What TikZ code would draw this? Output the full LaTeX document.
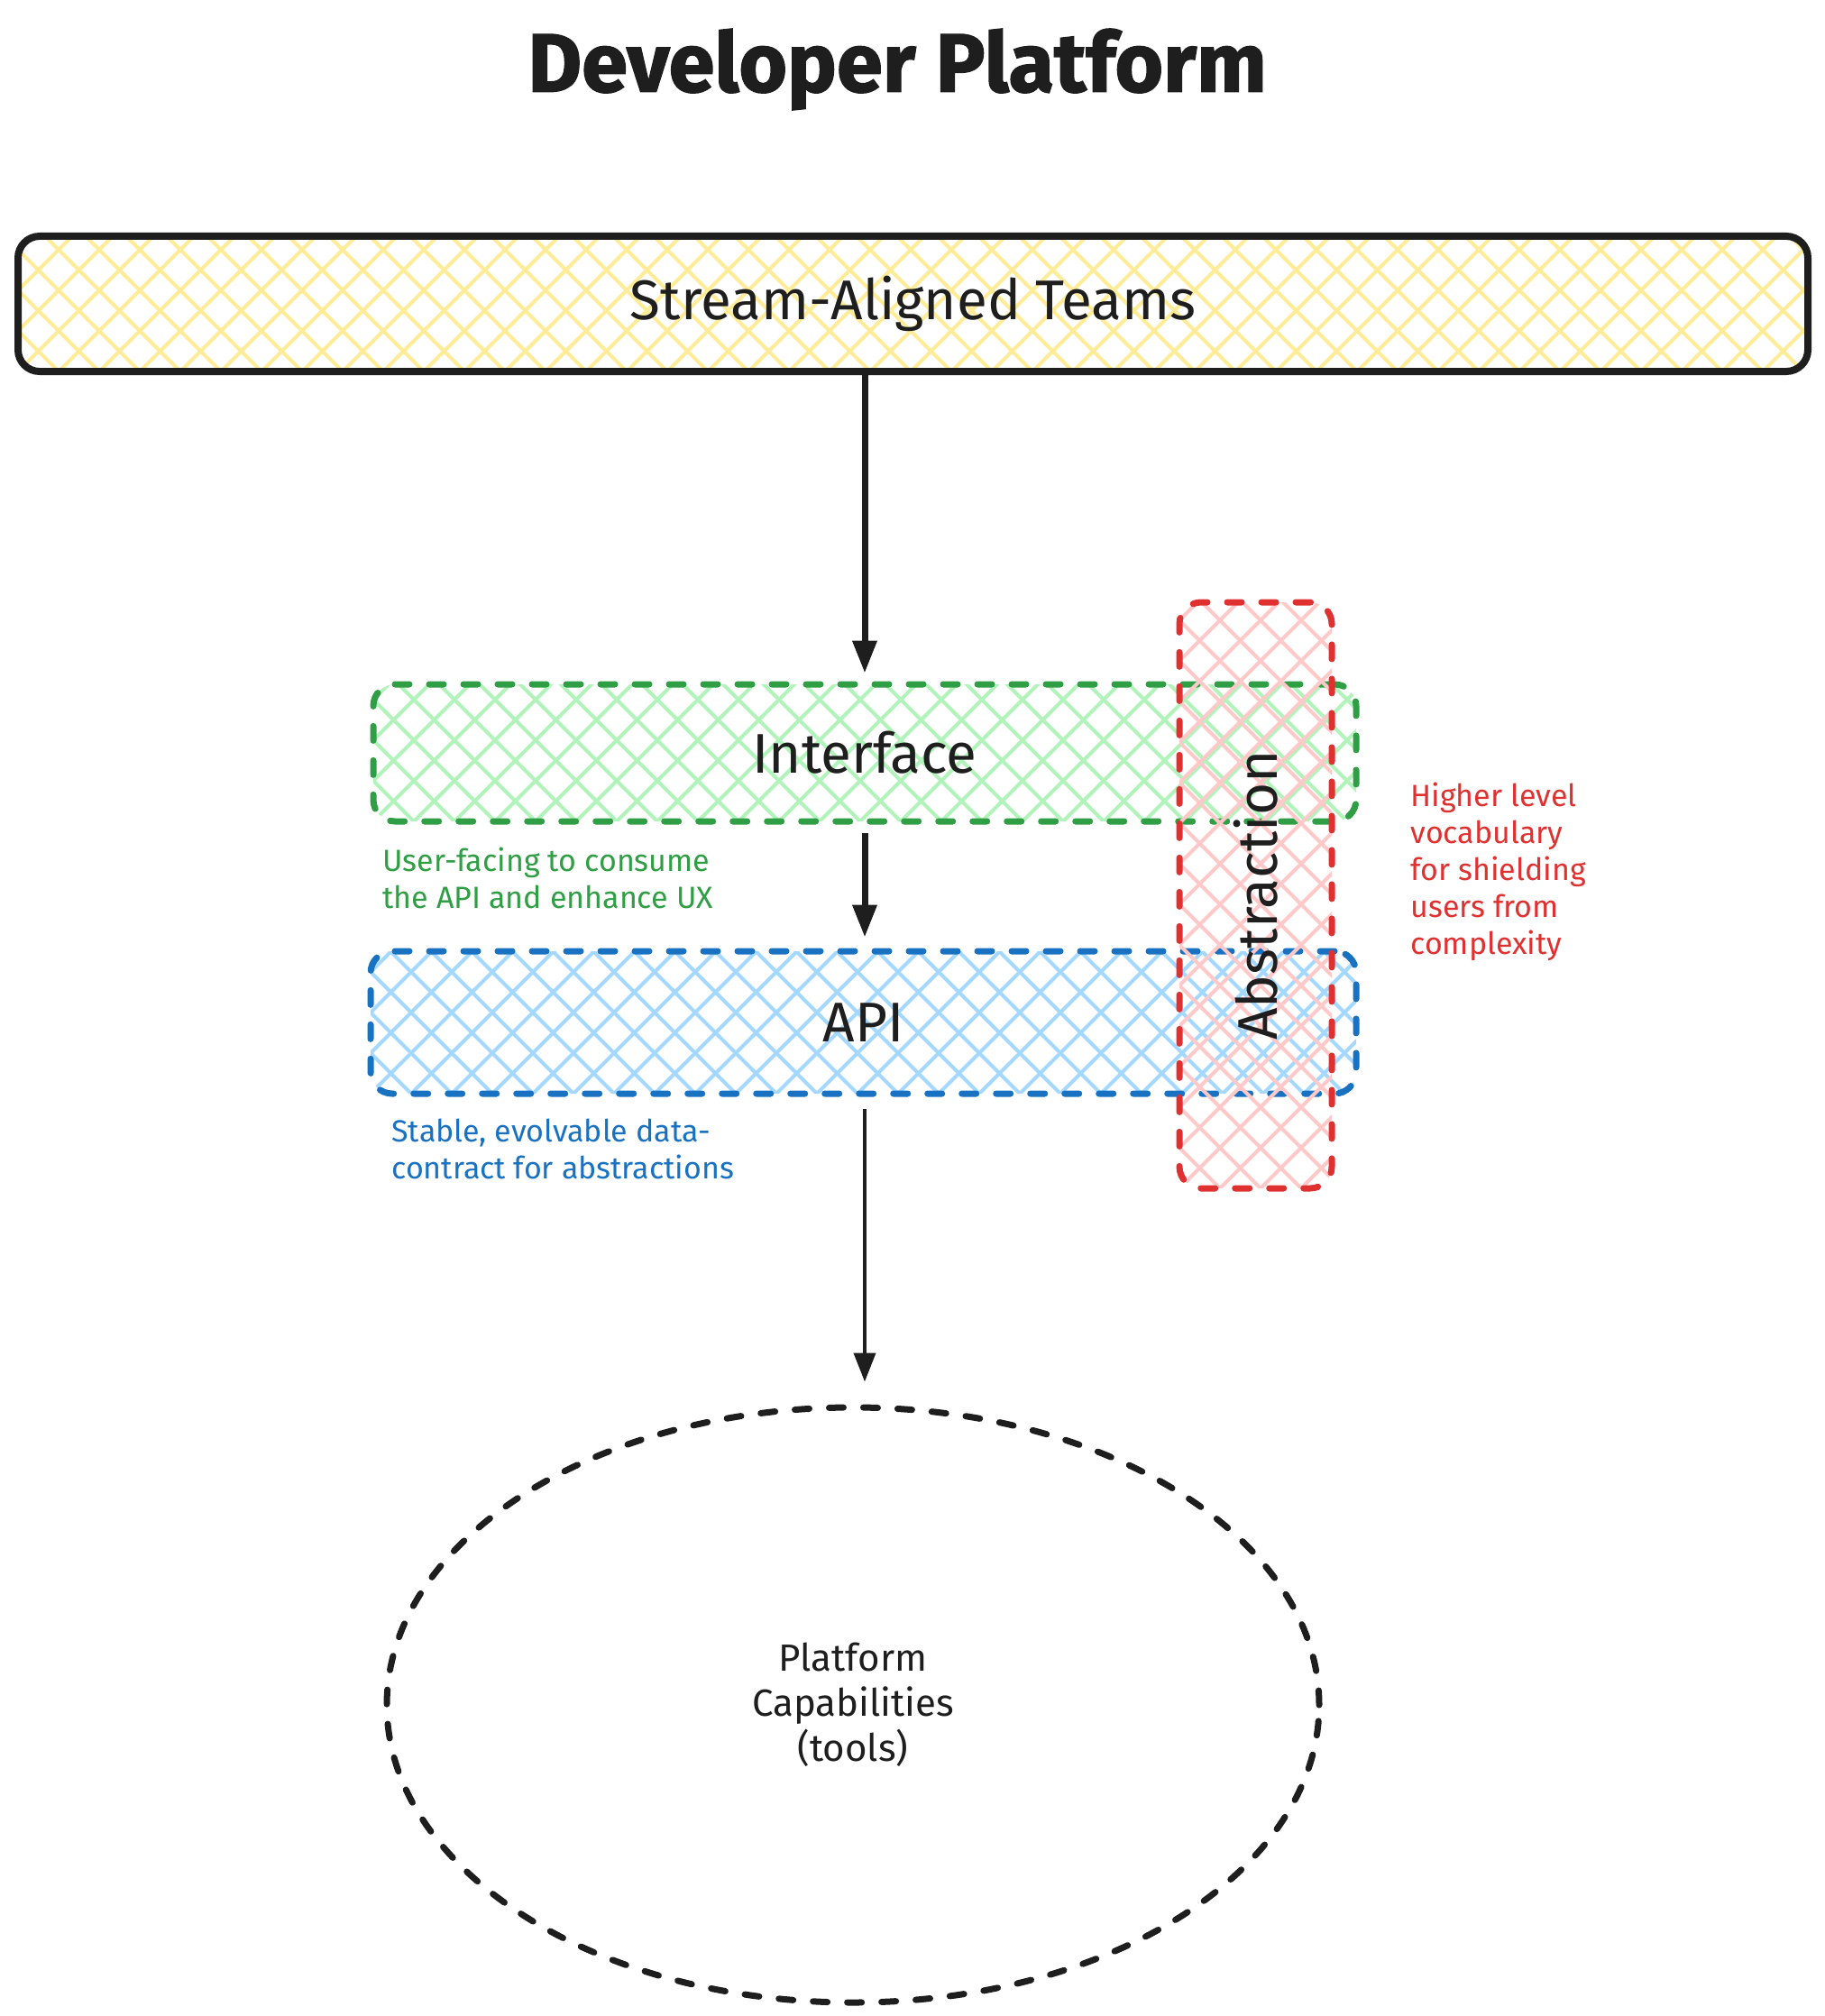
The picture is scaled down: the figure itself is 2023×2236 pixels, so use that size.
\documentclass[tikz,border=0pt]{standalone}
\usepackage{fontspec}
\setmainfont{Fira Sans}
\newfontfamily\titlefont{Fira Sans}[BoldFeatures={FakeBold=1.5}]
\usetikzlibrary{arrows.meta,shapes.geometric}

\definecolor{ink}{HTML}{1E1E1E}
\definecolor{teamfill}{HTML}{FFEC99}
\definecolor{uigreen}{HTML}{2F9E44}
\definecolor{uifill}{HTML}{B2F2BB}
\definecolor{apiblue}{HTML}{1971C2}
\definecolor{apifill}{HTML}{A5D8FF}
\definecolor{absred}{HTML}{E03131}
\definecolor{absfill}{HTML}{FFC9C9}

\begin{document}
\begin{tikzpicture}[
    x=0.5pt, y=-0.5pt,
    hatch/.style={path picture={
        \foreach \k in {-16,...,50} {
            \draw[#1, line width=2pt, solid, line cap=butt]
                ([xshift=\k*22.5pt]path picture bounding box.south west) -- ++(1000pt,1000pt);
            \draw[#1, line width=2pt, solid, line cap=butt]
                ([xshift=\k*22.5pt]path picture bounding box.south west) -- ++(-1000pt,1000pt);
        }}},
    layer/.style={draw, line width=3.5pt, rounded corners=12pt,
        inner sep=0pt, text=ink, font=\fontsize{31}{36}\selectfont},
    dashedlayer/.style={layer, dash pattern=on 8pt off 11pt, line cap=round},
    note/.style={anchor=west, inner sep=0pt, align=left,
        font=\fontsize{17}{20.5}\selectfont},
    flow/.style={draw=ink, line width=3.5pt,
        -{Triangle[length=18pt, width=13pt]}},
    thinflow/.style={draw=ink, line width=2pt,
        -{Triangle[length=16pt, width=12pt]}}
]
    \useasboundingbox (0,0) rectangle (2023,2236);

    \node[font=\titlefont\bfseries\fontsize{46}{52}\selectfont, text=ink] (title) at (995,77) {Developer Platform};

    \node[layer, draw=ink, line width=4pt, hatch=teamfill,
        minimum width=992.5pt, minimum height=75pt] (teams) at (1012.5,337) {Stream-Aligned Teams};

    \node[dashedlayer, draw=uigreen, hatch=uifill,
        minimum width=545pt, minimum height=76pt] (interface) at (959,835) {Interface};
    \node[dashedlayer, draw=apiblue, hatch=apifill,
        minimum width=546.5pt, minimum height=79pt] (api) at (957.5,1134) {API};
    \node[dashedlayer, draw=absred, hatch=absfill,
        minimum width=84.5pt, minimum height=325pt] (abstraction) at (1392.5,993) {};
    \node[rotate=90, text=ink, font=\fontsize{31}{36}\selectfont] (abstractionlabel) at (abstraction) {Abstraction};

    \node[ellipse, draw=ink, line width=3.5pt, dash pattern=on 8pt off 11pt, line cap=round,
        minimum width=517pt, minimum height=330pt, inner sep=0pt, align=center, text=ink,
        font=\fontsize{21}{25}\selectfont] (capabilities) at (946,1891) {Platform\\Capabilities\\(tools)};

    \node[note, text=uigreen] (uinote) at (424,974) {User-facing to consume\\the API and enhance UX};
    \node[note, text=apiblue] (apinote) at (434,1274) {Stable, evolvable data-\\contract for abstractions};
    \node[note, text=absred] (absnote) at (1564,967) {Higher level\\vocabulary\\for shielding\\users from\\complexity};

    \draw[flow, shorten >=4.5pt] (teams.south -| interface.north) -- (interface.north);
    \draw[flow, shorten <=4.5pt, shorten >=6pt] (interface.south) -- (api.north -| interface.south);
    \draw[thinflow, shorten <=6.5pt, shorten >=12.5pt] (api.south -| interface.south) -- (capabilities.north -| interface.south);
\end{tikzpicture}
\end{document}
